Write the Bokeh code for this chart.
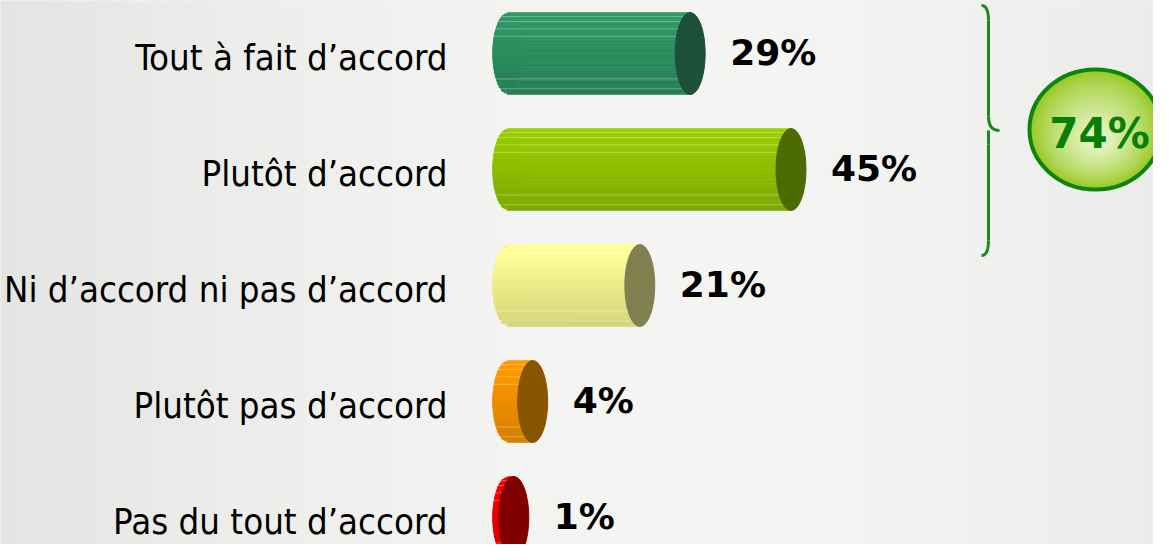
import numpy as np
from bokeh.plotting import figure
from bokeh.models import Range1d, ColumnDataSource
from bokeh.core.properties import value
from bokeh.embed import file_html
from bokeh.resources import INLINE

# ---------------- data ----------------
categories = ["Tout à fait d’accord", "Plutôt d’accord", "Ni d’accord ni pas d’accord",
              "Plutôt pas d’accord", "Pas du tout d’accord"]
values = [29, 45, 21, 4, 1]
value_labels = ["29%", "45%", "21%", "4%", "1%"]
body_colors = ["#2e9262", "#92c400", "#f6f68e", "#f79400", "#f20000"]
cap_colors = ["#1d4f39", "#4b6a00", "#808050", "#885500", "#800000"]
group_rows = [0, 1]
group_label = "74%"

# ---------------- layout ----------------
W, H = 1153, 544
PXU = 6.3          # pixels per percentage point
X0 = 507           # figure px of value 0
Y0 = 53            # figure px of first row centre
ROW = 116          # pixels between rows
BAR_H = 82         # bar thickness px
CAP_W = 30         # cap ellipse width px

def dx(px):
    return (px - X0) / PXU

def dy(py):
    return (py - Y0) / ROW

rows = list(range(len(categories)))

p = figure(width=W, height=H, x_range=Range1d(dx(0), dx(W)), y_range=Range1d(dy(H), dy(0)),
           output_backend="svg", toolbar_location=None, min_border=0,
           x_axis_location=None, y_axis_location=None)
p.grid.visible = False
p.outline_line_color = None
p.background_fill_color = "#ededeb"
p.border_fill_color = "#ededeb"

# background gradient (vertical bands)
NB = 240
bl, br, bc = [], [], []
for k in range(NB):
    f = (k + 0.5) / NB
    g = 229 + 16 * np.sin(np.pi * f * 0.85)
    r_, g_, b_ = int(round(g - 1)), int(round(g)), int(round(g - 3))
    bl.append(dx(k * W / NB - 0.5))
    br.append(dx((k + 1) * W / NB + 0.5))
    bc.append("#%02x%02x%02x" % (r_, g_, b_))
p.quad(left=bl, right=br, top=dy(-2), bottom=dy(H + 2), fill_color=bc, line_color=None)

# ---------------- cylinders ----------------
def shade(hexc, f):
    c = [int(hexc[i:i + 2], 16) for i in (1, 3, 5)]
    c = [max(0, min(255, int(round(v * f)))) for v in c]
    return "#%02x%02x%02x" % tuple(c)

NS = 24
R_END = (CAP_W / 2) / PXU
half = BAR_H / 2 / ROW

# rounded left ends (under the stripes)
p.ellipse(x=[0] * len(rows), y=rows, width=CAP_W, height=BAR_H - 1, width_units="screen",
          height_units="screen", fill_color=[shade(c, 0.97) for c in body_colors], line_color=None)

sy, sl, sr, sc = [], [], [], []
for i, v in zip(rows, values):
    for j in range(NS):
        t0 = -1 + 2 * j / NS
        t1 = -1 + 2 * (j + 1) / NS
        tm = (t0 + t1) / 2
        tout = max(abs(t0), abs(t1))
        sy.append(i + tm * half)
        sl.append(-R_END * np.sqrt(max(0.0, 1 - tout * tout)))
        sr.append(v)
        sc.append(shade(body_colors[i], 1.06 - 0.10 * (tm + 1)))
strips = ColumnDataSource(dict(y=sy, left=sl, right=sr, c=sc))
p.hbar(y="y", left="left", right="right", height=2 * half / NS, fill_color="c",
       line_color="c", line_width=0.6, source=strips)

# thin highlight lines
ly, lx0, lx1 = [], [], []
for i, v in zip(rows, values):
    for t in (-0.9, -0.78, -0.6, -0.42, 0.62, 0.86):
        ly.append(i + t * half)
        lx0.append(-R_END * np.sqrt(1 - t * t))
        lx1.append(v)
p.segment(x0=lx0, y0=ly, x1=lx1, y1=ly, line_color="white", line_alpha=0.3, line_width=1)

# caps
p.ellipse(x=values, y=rows, width=CAP_W, height=BAR_H, width_units="screen", height_units="screen",
          fill_color=cap_colors, line_color=cap_colors, line_width=1)

# ---------------- labels ----------------
p.text(x=[0] * len(rows), y=rows, text=categories, x_offset=-60, y_offset=4,
       text_align="right", text_baseline="alphabetic",
       text_font=value("DejaVu Sans Condensed"), text_font_size="36.3px", text_color="#000000")

p.text(x=values, y=rows, text=value_labels, x_offset=40, y_offset=-1,
       text_align="left", text_baseline="alphabetic",
       text_font=value("DejaVu Sans"), text_font_style="bold", text_font_size="36px",
       text_color="#000000")

# ---------------- brace ----------------
BRACE = "#1a8a1a"
BX, TX, EX = 988, 999, 981
top_px = Y0 + ROW * group_rows[0] - 48
bot_px = Y0 + ROW * group_rows[-1] + 86
mid_px = (top_px + bot_px) / 2
q_x0 = [EX, BX, BX, BX]
q_y0 = [top_px, mid_px - 14, mid_px, bot_px - 15]
q_x1 = [BX, TX, BX, EX]
q_y1 = [top_px + 15, mid_px, mid_px + 14, bot_px]
q_cx = [BX, BX, BX, BX]
q_cy = [top_px, mid_px, mid_px, bot_px]
p.quadratic(x0=[dx(v) for v in q_x0], y0=[dy(v) for v in q_y0],
            x1=[dx(v) for v in q_x1], y1=[dy(v) for v in q_y1],
            cx=[dx(v) for v in q_cx], cy=[dy(v) for v in q_cy],
            line_color=BRACE, line_width=3)
p.segment(x0=[dx(BX), dx(BX)], y0=[dy(top_px + 15), dy(mid_px + 14)],
          x1=[dx(BX), dx(BX)], y1=[dy(mid_px - 14), dy(bot_px - 15)],
          line_color=BRACE, line_width=3)

# ---------------- badge ----------------
CX, CY, EW, EH = 1095, mid_px - 1, 132, 120
NE = 30
outer = np.array([0x96, 0xc8, 0x22])
inner = np.array([0xee, 0xf8, 0xd2])
ex, ey, ew, eh, ec = [], [], [], [], []
for k in range(NE):
    s = 1 - k / NE
    f = (k / (NE - 1)) ** 0.8
    col = outer + (inner - outer) * f
    ex.append(dx(CX + 2 * (1 - s)))
    ey.append(dy(CY + 12 * (1 - s)))
    ew.append(EW * s)
    eh.append(EH * s)
    ec.append("#%02x%02x%02x" % tuple(int(round(c)) for c in col))
p.ellipse(x=ex, y=ey, width=ew, height=eh, width_units="screen", height_units="screen",
          fill_color=ec, line_color=None)
p.ellipse(x=[dx(CX)], y=[dy(CY)], width=EW, height=EH, width_units="screen", height_units="screen",
          fill_color=None, line_color="#0c850c", line_width=4)
p.text(x=[dx(CX + 4)], y=[dy(CY + 4)], text=[group_label], text_align="center",
       text_baseline="alphabetic", text_font=value("DejaVu Sans"), text_font_style="bold",
       text_font_size="42px", text_color="#077f07")

open("out.html", "w").write(file_html(p, INLINE))
